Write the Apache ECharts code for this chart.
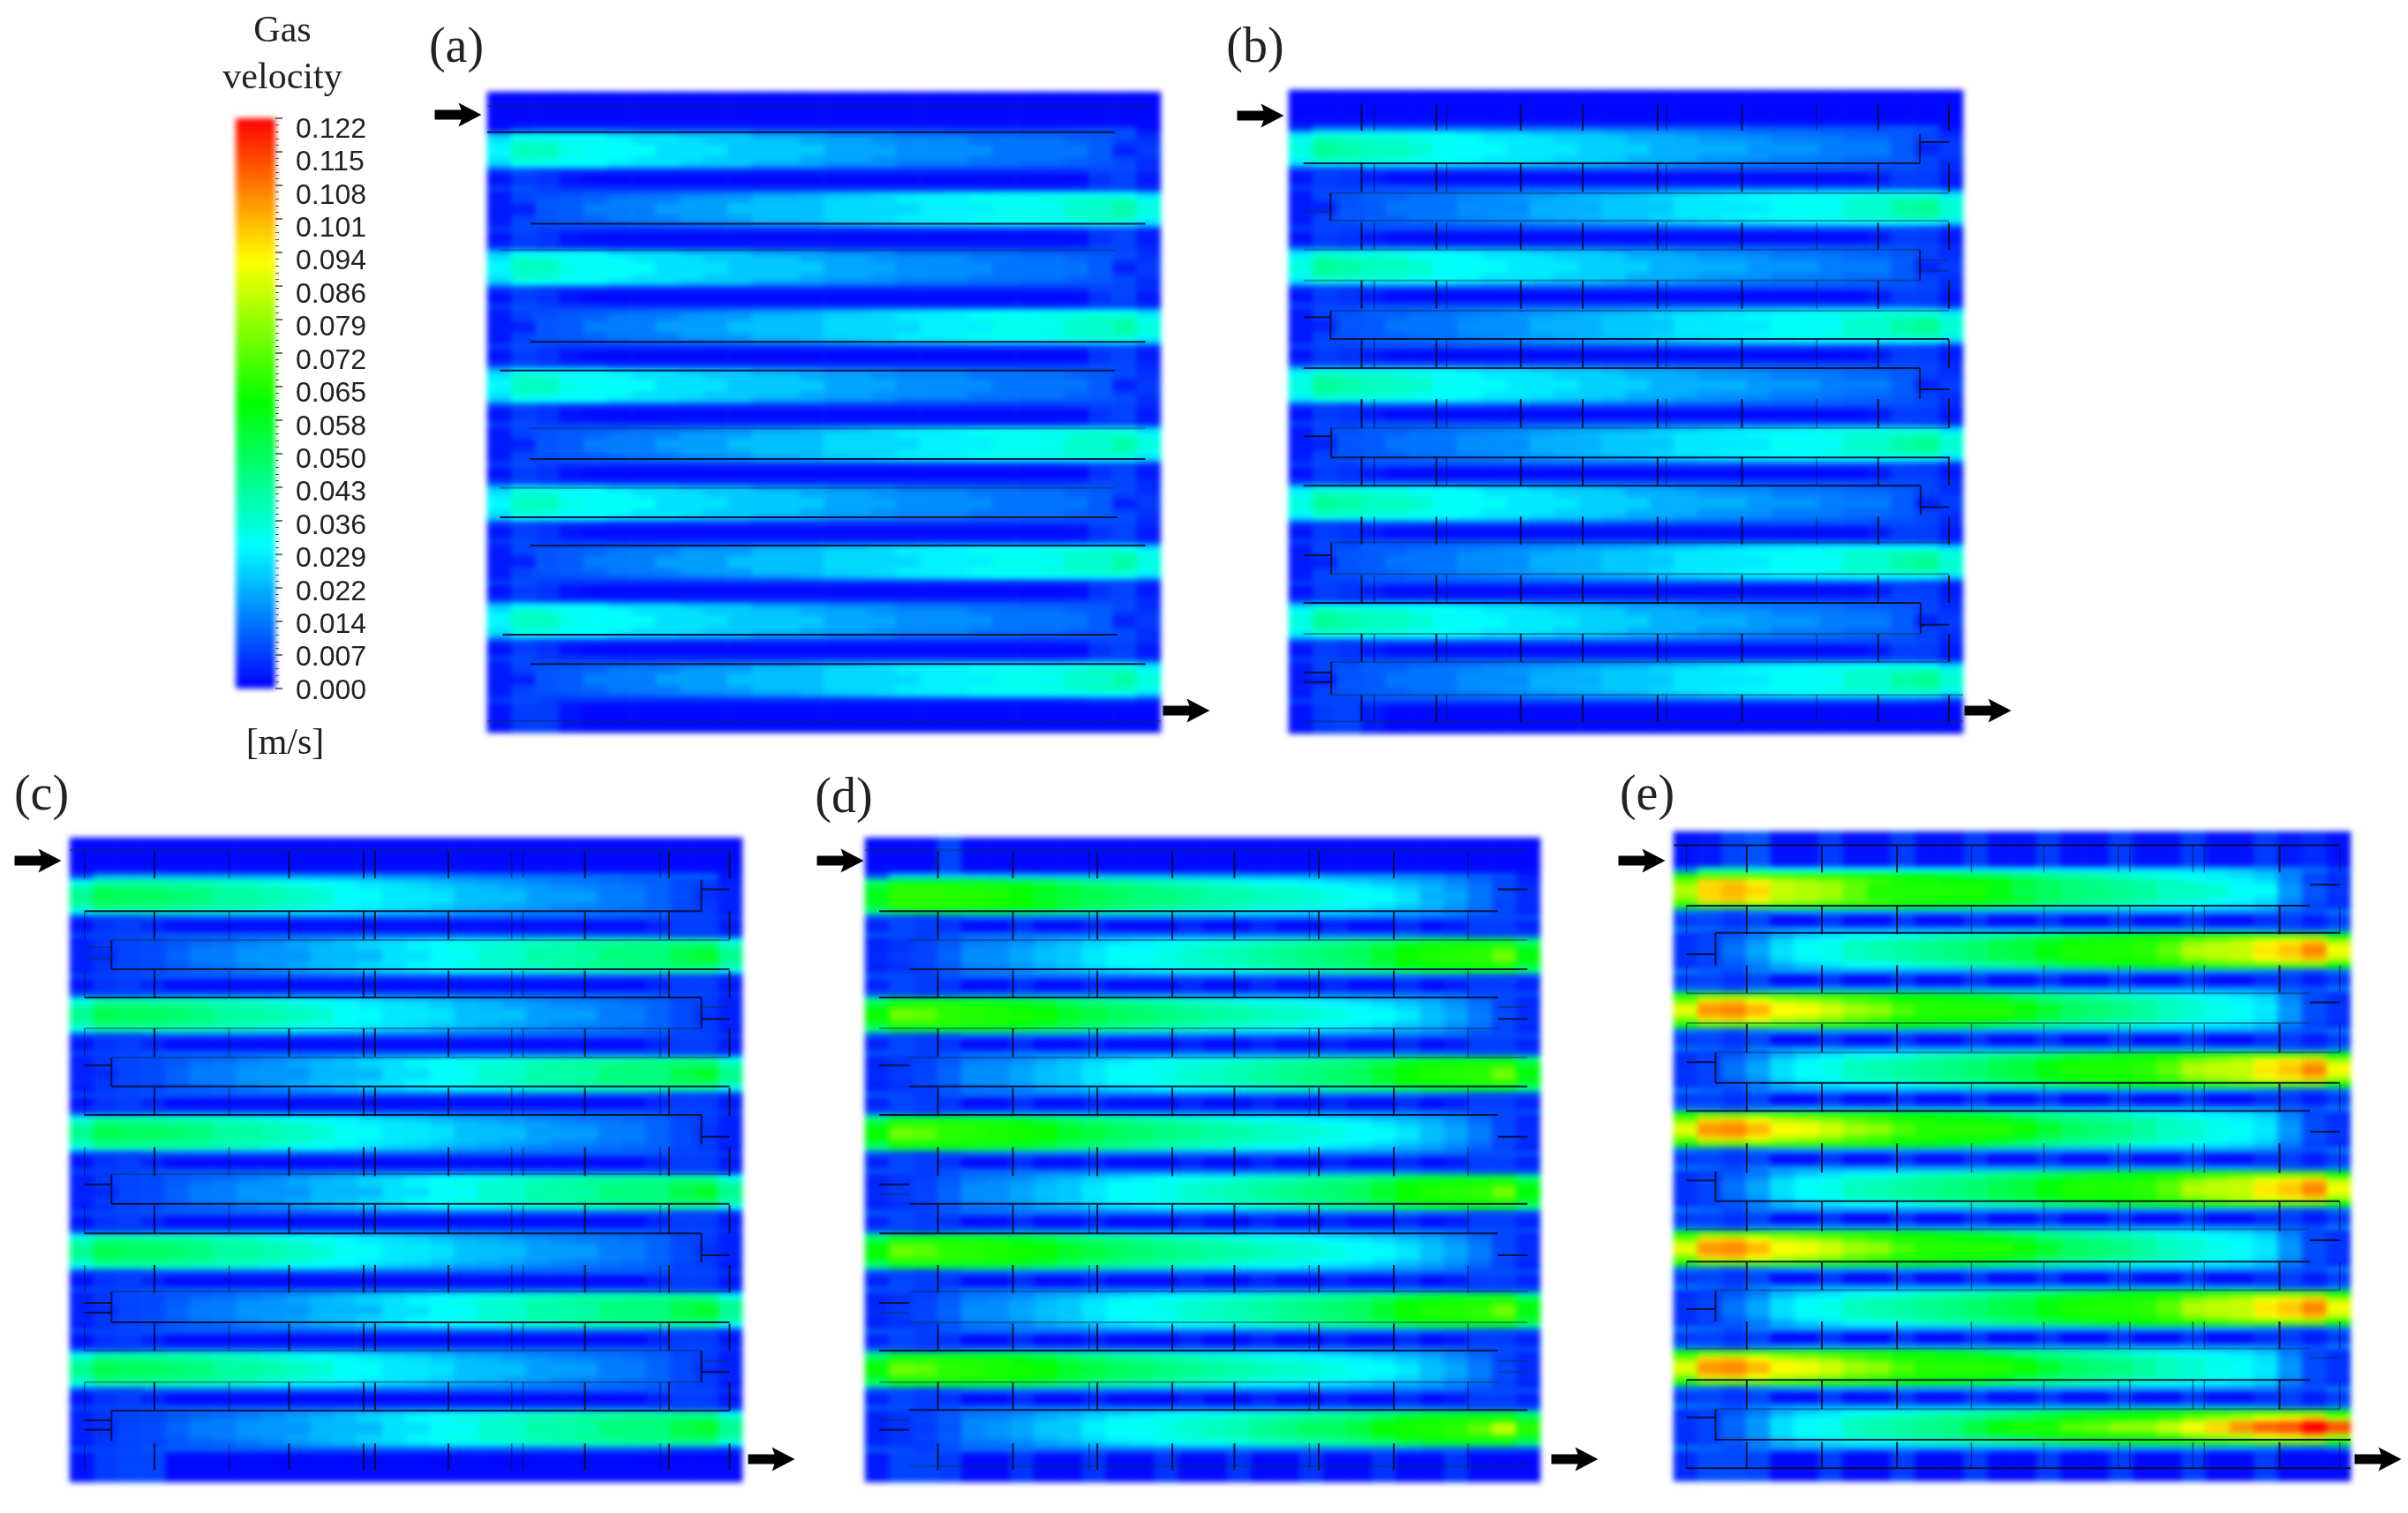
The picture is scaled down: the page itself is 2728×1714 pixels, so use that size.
<!DOCTYPE html>
<html>
<head>
<meta charset="utf-8">
<title>Gas velocity</title>
<script src="https://cdn.jsdelivr.net/npm/echarts@6/dist/echarts.min.js"></script>
<style>
html,body{margin:0;padding:0;background:#fff;}
#heat,#over{position:absolute;left:0;top:0;width:2728px;height:1714px;}
#heat{filter:blur(3px);}
</style>
</head>
<body>
<div id="heat"></div>
<div id="over"></div>
<script>
// all velocities in mm/s (28 columns per panel)
var colorbarLabels=['0.000','0.007','0.014','0.022','0.029','0.036','0.043','0.050','0.058','0.065','0.072','0.079','0.086','0.094','0.101','0.108','0.115','0.122'];
var rainbow=['#0000ff','#00ffff','#00ff00','#ffff00','#ff0000'];

// panel a
var aOddCenter=[30,38,38,33,31,31,31,27,27,27,24,24,24,24,20,20,20,17,17,17,17,14,14,14,14,11,4,7];
var aOddMid=[28,36,35,31,31,31,27,27,27,24,24,24,24,20,20,20,17,17,17,17,14,14,14,14,12,11,8,6];
var aOddEdge=[24,31,31,31,31,27,27,27,24,24,24,20,20,20,17,17,17,14,14,14,13,13,12,12,11,10,9,5];
var aEvenCenter=[3,4,10,11,15,15,15,19,19,19,23,23,23,23,26,26,26,26,29,29,29,32,32,32,36,36,41,34];
var aEvenMid=[3,8,10,11,12,15,15,15,19,19,19,23,23,23,26,26,26,29,29,29,32,32,32,34,36,38,38,32];
var aEvenEdge=[3,8,9,10,11,12,13,14,15,16,17,19,19,21,23,24,26,27,28,29,30,31,31,31,31,31,31,26];
var aGapEdge=[7,9,7,6,6,5,5,5,5,5,5,5,5,5,5,5,5,5,5,5,5,5,5,5,6,8,8,5];
var aGapLow=[2,7,6,2,1,1,1,1,1,1,1,1,1,1,1,1,1,1,1,1,1,1,1,1,1,6,8,3];
var aTop=[1,1,1,1,1,1,1,1,1,1,1,1,1,1,1,1,1,1,1,1,1,1,1,1,1,1,1,1];
var aTopEdge=[3,9,10,10,10,10,9,9,9,9,9,8,8,8,8,8,8,8,8,7,7,7,7,7,8,9,9,2];
var aBottom=[2,7,7,2,1,1,1,1,1,1,1,1,1,1,1,1,1,1,1,1,1,1,1,1,1,1,1,1];
// panel b
var bOddCenter=[34,43,41,38,38,36,31,31,31,28,28,28,25,25,25,21,21,21,21,18,18,18,15,15,15,11,4,7];
var bOddMid=[32,40,38,37,36,33,31,31,28,28,28,25,25,25,21,21,21,18,18,18,15,15,15,13,13,11,8,6];
var bOddEdge=[27,33,33,32,32,31,31,29,27,27,25,24,24,22,20,20,18,17,16,15,14,14,13,12,11,10,8,5];
var bEvenCenter=[3,4,10,11,14,14,14,17,17,17,21,21,21,24,24,24,28,28,28,28,31,31,31,36,36,41,44,36];
var bEvenMid=[3,8,10,11,12,14,14,16,17,18,20,21,22,24,24,26,28,28,29,30,31,31,33,36,37,39,40,34];
var bEvenEdge=[3,8,9,11,11,12,13,14,15,16,17,18,19,20,21,23,24,26,27,28,29,30,30,31,31,31,31,26];
var bGapEdge=[7,8,7,9,9,9,9,9,9,9,9,9,9,9,9,9,9,9,9,9,9,9,9,9,9,9,8,5];
var bGapLow=[2,7,6,3,1,1,1,1,1,1,1,1,1,1,1,1,1,1,1,1,1,1,1,1,3,7,7,3];
var bTop=[1,1,1,1,1,1,1,1,1,1,1,1,1,1,1,1,1,1,1,1,1,1,1,1,1,1,1,1];
var bTopEdge=[5,14,14,14,13,13,13,13,12,12,12,12,12,11,11,11,11,11,11,10,10,10,10,10,10,11,10,2];
var bBottom=[2,7,8,3,1,1,1,1,1,1,1,1,1,1,1,1,1,1,1,1,1,1,1,1,1,1,1,1];
// panel c
var cOddCenter=[44,52,50,50,48,46,42,42,40,38,36,31,31,28,28,27,23,23,23,19,19,19,15,15,12,9,6,4];
var cOddMid=[40,48,47,46,45,44,41,40,38,36,33,31,29,28,27,25,23,22,20,19,17,16,15,14,12,9,7,4];
var cOddEdge=[33,40,40,40,39,38,37,36,33,31,31,29,27,25,24,22,20,19,18,16,15,14,13,12,11,8,7,3];
var cEvenCenter=[4,5,8,9,12,15,15,18,18,18,22,22,22,27,27,31,31,36,36,41,41,41,46,46,46,52,56,44];
var cEvenMid=[4,7,8,9,11,14,15,17,18,20,22,23,26,27,30,31,34,36,38,40,41,44,45,46,47,50,50,41];
var cEvenEdge=[3,6,8,8,10,11,12,14,16,18,20,22,24,26,28,30,31,32,34,36,38,39,40,41,41,42,42,32];
var cGapEdge=[8,8,8,10,11,11,11,11,11,11,11,11,11,11,11,11,11,11,11,11,11,11,11,11,10,8,8,6];
var cGapLow=[2,6,7,4,1,1,1,1,1,1,1,1,1,1,1,1,1,1,1,1,1,1,1,1,4,7,7,3];
var cTop=[1,1,1,1,1,1,1,1,1,1,1,1,1,1,1,1,1,1,1,1,1,1,1,1,1,1,1,1];
var cTopEdge=[8,20,20,20,19,19,19,18,18,18,17,17,17,16,16,15,15,14,14,14,13,13,13,12,12,12,12,3];
var cBottom=[2,7,8,8,1,1,1,1,1,1,1,1,1,1,1,1,1,1,1,1,1,1,1,1,1,1,1,1];
// panel d
var dFirstCenter=[58,66,66,65,65,64,62,56,54,52,50,47,46,44,41,41,39,37,36,34,31,31,27,21,20,14,9,5];
var dOddCenter=[62,74,72,66,65,64,63,62,56,54,50,48,46,44,42,41,39,37,36,34,31,31,28,23,20,15,9,5];
var dOddMid=[56,66,66,65,64,63,61,58,54,50,48,46,44,42,40,38,36,35,33,31,30,28,25,22,18,14,8,5];
var dOddEdge=[46,56,56,56,55,54,52,50,46,44,42,40,38,36,35,33,31,31,29,27,25,23,21,19,16,12,8,4];
var dEvenCenter=[5,7,8,12,17,17,20,23,24,28,31,31,33,36,38,40,42,44,46,48,50,56,62,64,65,66,74,60];
var dLastCenter=[4,6,7,10,16,18,20,24,24,29,31,31,33,36,38,40,44,46,50,50,54,62,63,64,66,72,84,66];
var dEvenMid=[4,6,8,11,16,17,19,22,24,27,30,31,33,35,37,39,41,43,45,47,49,54,60,62,63,64,66,56];
var dEvenEdge=[4,6,7,10,13,14,16,19,21,24,26,28,30,31,32,34,36,38,40,42,44,46,50,54,55,56,56,46];
var dGapEdge=[10,9,7,10,13,13,14,14,14,14,14,14,14,14,14,14,14,14,14,14,14,14,14,13,12,9,9,9];
var dGapLow=[4,8,7,6,1,1,5,1,1,4,1,1,1,4,1,1,4,1,1,4,1,1,5,1,3,7,7,4];
var dTop=[1,1,1,8,1,1,1,1,1,1,1,1,1,1,1,1,1,1,1,1,1,1,1,1,1,1,1,1];
var dTopEdge=[10,24,24,24,24,23,23,22,22,22,21,21,21,20,20,20,19,19,19,18,18,18,17,16,14,12,10,4];
var dBottom=[3,8,8,7,1,1,6,1,1,6,1,1,6,1,1,6,1,1,6,1,1,6,1,1,6,1,1,1];
// panel e
var eFirstCenter=[82,96,100,96,84,82,80,72,64,64,64,64,64,58,52,50,47,46,44,42,38,38,36,31,31,18,10,6];
var eOddCenter=[88,104,106,100,92,90,86,80,78,70,65,65,65,65,62,56,50,48,46,42,38,36,33,31,28,18,9,6];
var eOddMid=[76,96,98,92,84,82,78,72,68,64,64,62,62,60,56,50,47,45,43,41,38,35,32,30,27,17,9,6];
var eOddEdge=[64,72,72,72,70,68,66,65,64,62,60,57,54,50,46,44,42,40,38,35,32,31,29,27,24,15,8,5];
var eEvenCenter=[6,8,14,20,27,31,33,38,40,42,44,46,48,52,54,60,64,64,64,66,72,82,84,84,94,98,106,90];
var eLastCenter=[6,8,12,18,27,31,32,38,40,42,44,46,54,60,64,64,70,72,78,78,84,90,96,104,110,112,122,112];
var eEvenMid=[6,8,12,18,26,30,32,37,39,41,43,45,47,51,53,58,62,63,63,64,68,76,80,84,90,94,98,82];
var eEvenEdge=[5,7,10,14,20,24,27,30,31,33,36,38,40,42,45,48,52,55,58,60,62,64,66,68,70,72,72,62];
var eGapEdge=[14,12,9,15,18,19,19,19,19,19,19,19,19,19,19,19,19,19,19,19,19,19,18,18,16,11,10,14];
var eGapLow=[7,8,6,8,1,1,6,1,1,6,1,1,6,1,1,6,1,1,6,1,1,6,1,1,5,7,3,7];
var eTop=[2,3,8,10,2,2,7,2,2,7,2,2,7,2,2,7,2,2,7,2,2,7,2,2,7,3,5,2];
var eTopEdge=[16,40,40,36,32,31,30,30,30,29,29,29,28,28,28,28,28,28,27,27,27,26,26,24,20,16,13,8];
var eBottom=[5,9,9,8,1,1,7,1,1,7,1,1,7,1,1,7,1,1,7,1,1,7,1,1,7,1,1,1];

// black tubes, % of panel: horizontal [y,x0,x1], vertical [x,y0,y1]
var aDarkWires=[[6.3,0,93.2],[20.6,6.4,97.7],[39,6.4,97.7],[43.5,1.9,93.2],[57.3,6.4,97.7],[66.4,1.9,93.5],[70.8,6.4,97.7],[84.7,2.3,93.5],[89.3,6.4,97.7]];
var aFaintWires=[[2.2,0,98],[24.7,1.9,93.2],[52.5,6.4,97.7],[61.8,1.9,93.2],[98.2,0,100]];
var bDarkWires=[[11.4,2.2,93.6],[8.1,93.6,97.9],[38.7,6.2,97.9],[43.2,2.2,93.6],[46.5,93.6,97.9],[57.1,6.3,97.9],[61.5,2.2,93.7],[64.8,93.7,97.9],[79.7,2.2,93.7],[83.1,93.7,97.9],[35.3,2.2,6.2],[53.8,2.2,6.3],[72.3,2.2,6.3],[90.5,2.2,6.3],[92,2.2,6.3]];
var bFaintWires=[[16,6.2,97.9],[20.3,6.2,97.9],[18.9,2.2,6.2],[24.8,2.2,93.6],[29.6,2.2,93.6],[26.4,93.6,97.9],[28.1,93.6,97.9],[34.3,6.2,97.9],[52.5,6.3,97.9],[70.3,6.3,97.9],[75.2,6.3,97.9],[84.5,2.2,93.7],[88.9,6.3,97.9],[94,6.3,100],[98.1,2.2,100]];
var bRisers=[[93.6,6.9,11.4],[6.2,16,20.3],[93.6,24.8,29.6],[6.2,34.3,38.7],[93.6,43.2,48],[6.3,52.5,57.1],[93.7,61.5,66],[6.3,70.3,75.2],[93.7,79.7,84.5],[6.3,88.9,94]];
var cDarkWires=[[11.4,2.2,93.9],[8,93.9,98.1],[20.4,6.2,98.1],[24.8,2.2,93.9],[28.1,93.9,98.1],[38.6,6.2,98.1],[35.3,2.2,6.2],[43,2.2,93.9],[46.4,93.9,98.1],[56.8,6.2,98.1],[53.8,2.2,6.2],[61.4,2.2,93.9],[64.8,93.9,98.1],[72.2,2.2,6.2],[73.7,2.2,6.2],[75.2,6.2,98.1],[82.9,93.9,98.1],[88.9,6.2,98.1],[90.4,2.2,6.2],[91.9,2.2,6.2]];
var cFaintWires=[[1.9,0,98.1],[15.9,6.2,98.1],[18.8,2.2,6.2],[17,2.2,6.2],[29.6,2.2,93.9],[26.3,93.9,98.1],[34.1,6.2,98.1],[52.2,6.2,98.1],[70.4,6.2,98.1],[79.6,2.2,93.9],[84.5,2.2,93.9],[81.2,93.9,98.1]];
var cRisers=[[93.9,6.5,11.4],[6.2,15.9,20.4],[93.9,24.8,29.6],[6.2,34.1,38.6],[93.9,43,47.6],[6.2,52.2,56.8],[93.9,61.4,66],[6.2,70.4,75.2],[93.9,79.6,84.5],[6.2,88.9,93.6]];
var dDarkWires=[[11.4,2.1,93.7],[8,93.7,98.1],[20.4,6.5,98.1],[24.8,2.1,93.7],[28.1,93.7,98.1],[38.6,6.5,98.1],[35.3,2.1,6.5],[43,2.1,93.7],[46.4,93.7,98.1],[53.8,2.1,6.5],[56.8,6.5,98.1],[61.4,2.1,93.7],[64.8,93.7,98.1],[72.2,2.1,6.5],[79.6,2.1,93.7],[88.8,6.5,98.1],[91.9,2.1,6.5]];
var dFaintWires=[[1.9,0,98],[15.9,6.5,98.1],[26.3,93.7,98.1],[29.6,2.1,93.7],[34.1,6.5,98.1],[55.3,2.1,6.5],[70.4,6.5,98.1],[73.7,2.1,6.5],[75.2,6.5,98.1],[81.2,93.7,98.1],[82.9,93.7,98.1],[84.5,2.1,93.7],[90.4,2.1,6.5],[97.5,6.5,98]];
var eDarkWires=[[2.1,0,98.4],[11.4,1.9,94],[8.2,94,98.4],[15.6,6.2,98.4],[18.9,1.9,6.2],[26.3,94,98.4],[38.7,6.2,98.4],[35.5,1.9,6.2],[43,1.9,94],[46.2,94,98.4],[53.7,1.9,6.2],[56.9,6.2,98.4],[62.9,94,98.4],[66.2,1.9,94],[73.5,1.9,6.2],[84.4,1.9,94],[90.2,1.9,6.2],[93.6,6.2,100],[98,1.9,100]];
var eFaintWires=[[24.9,1.9,94],[29.5,1.9,94],[34,6.2,98.4],[61.2,1.9,94],[70.6,6.2,98.4],[79.6,1.9,94],[81,94,98.4],[88.9,6.2,98.4]];
var eRisers=[[6.2,15.6,20.6],[6.2,34,38.7],[6.2,52.3,56.9],[6.2,70.6,75.4],[6.2,88.9,93.7]];

// spacer ticks, x in % of panel, repeated over the y spans of each gap
var tickSpans=[[2.1,6.3],[11.4,15.8],[20.6,24.8],[29.6,34],[38.8,43.2],[48,52.5],[57,61.5],[66.3,70.6],[75.4,79.7],[84.5,88.9],[94,98.1]];
var bTicks=[10.8,21.9,34.4,43.6,54.7,67.2,87.4,97.9];
var bThinTicks=[12.7,23.4,56,78.3];
var cTicks=[12.6,32.6,43.7,45.4,56.3,76.6,89.1,98.1];
var cThinTicks=[2.2,23.7,65.7,67.4,87.8];
var dTicks=[21.9,34.4,45.5,54.7,67.2,78.3,10.8];
var dThinTicks=[33.2,65.8,89.3];
var eTicks=[10.8,21.9,33,89.5];
var eThinTicks=[1.9,44,54.7,65.7,67.4,76.7,78.4,98.4];

var panels=[
	{label:'(a)',lx:517,ly:55,rect:[552,104,763,726],rows:buildRows(aTop,aTopEdge,aOddCenter,aOddMid,aOddEdge,aEvenCenter,aEvenMid,aEvenEdge,aGapEdge,aGapLow,aBottom),dark:aDarkWires,faint:aFaintWires,risers:[],ticks:[],thin:[]},
	{label:'(b)',lx:1422,ly:55,rect:[1460,102,764,729],rows:buildRows(bTop,bTopEdge,bOddCenter,bOddMid,bOddEdge,bEvenCenter,bEvenMid,bEvenEdge,bGapEdge,bGapLow,bBottom),dark:bDarkWires,faint:bFaintWires,risers:bRisers,ticks:bTicks,thin:bThinTicks},
	{label:'(c)',lx:47,ly:902,rect:[79,949,762,730],rows:buildRows(cTop,cTopEdge,cOddCenter,cOddMid,cOddEdge,cEvenCenter,cEvenMid,cEvenEdge,cGapEdge,cGapLow,cBottom),dark:cDarkWires,faint:cFaintWires,risers:cRisers,ticks:cTicks,thin:cThinTicks},
	{label:'(d)',lx:956,ly:905,rect:[980,949,765,730],rows:buildRows(dTop,dTopEdge,dOddCenter,dOddMid,dOddEdge,dEvenCenter,dEvenMid,dEvenEdge,dGapEdge,dGapLow,dBottom,dFirstCenter,dLastCenter),dark:dDarkWires,faint:dFaintWires,risers:[],ticks:dTicks,thin:dThinTicks},
	{label:'(e)',lx:1866,ly:902,rect:[1896,942,767,736],rows:buildRows(eTop,eTopEdge,eOddCenter,eOddMid,eOddEdge,eEvenCenter,eEvenMid,eEvenEdge,eGapEdge,eGapLow,eBottom,eFirstCenter,eLastCenter),dark:eDarkWires,faint:eFaintWires,risers:eRisers,ticks:eTicks,thin:eThinTicks}
];

// arrow centres on the page, inlet then outlet of each panel
var arrowCentres=[[519,130],[1344,805],[1428,131],[2252,805],[43,975],[874,1653],[952,975],[1784,1653],[1860,975],[2694,1653]];
var arrowPath='path://M0,8 L30,8 L27,0 L53,13.5 L27,27 L30,19 L0,19 Z';

// stack the lanes: 7 rows above, 10 lanes of 6 rows with 4 gap rows, 6 rows below
function buildRows(top,topEdge,oc,om,oe,ec,em,ee,gapEdge,gapLow,bottom,firstCenter,lastCenter){
	var rows=[top,top,top,top,top,top,topEdge];
	for(var k=0;k<10;k++){
		var odd=k%2==0;
		var center=odd?oc:ec;
		if(k==0&&firstCenter) center=firstCenter;
		if(k==9&&lastCenter) center=lastCenter;
		var mid=odd?om:em, edge=odd?oe:ee;
		rows.push(edge,mid,center,center,mid,edge);
		if(k<9) rows.push(gapEdge,gapLow,gapLow,gapEdge);
	}
	rows.push(gapEdge,bottom,bottom,bottom,bottom,bottom);
	return rows;
}

function indexList(n){
	var a=[];
	for(var i=0;i<n;i++) a.push(i);
	return a;
}

function heatCells(rows){
	var cells=[];
	rows.forEach(function(r,y){
		r.forEach(function(v,x){ cells.push([x,y,v]); });
	});
	return cells;
}

function segments(hs,vs){
	var out=[];
	hs.forEach(function(s){ out.push([s[1],s[0]],[s[2],s[0]],['-','-']); });
	vs.forEach(function(s){ out.push([s[0],s[1]],[s[0],s[2]],['-','-']); });
	return out;
}

function tickSegments(xs){
	var out=[];
	xs.forEach(function(x){
		tickSpans.forEach(function(s){ out.push([x,s[0]],[x,s[1]],['-','-']); });
	});
	return out;
}

function wireSeries(i,data,width,color){
	return {
		type:'line',xAxisIndex:i,yAxisIndex:i,data:data,
		showSymbol:false,silent:true,connectNulls:false,animation:false,
		lineStyle:{width:width,color:color}
	};
}

// lower layer: the contour fields and the colour scale
var heat=echarts.init(document.getElementById('heat'));
var heatGrids=[],heatX=[],heatY=[],heatSeries=[];
panels.forEach(function(p,i){
	heatGrids.push({left:p.rect[0],top:p.rect[1],width:p.rect[2],height:p.rect[3]});
	heatX.push({type:'category',gridIndex:i,data:indexList(28),show:false});
	heatY.push({type:'category',gridIndex:i,data:indexList(p.rows.length),inverse:true,show:false});
	heatSeries.push({type:'heatmap',xAxisIndex:i,yAxisIndex:i,data:heatCells(p.rows),progressive:0,animation:false});
});
heat.setOption({
	animation:false,
	grid:heatGrids,xAxis:heatX,yAxis:heatY,series:heatSeries,
	visualMap:{
		type:'continuous',min:0,max:122,left:267,top:134,itemWidth:45,itemHeight:646,padding:0,
		calculable:false,showLabel:false,text:null,inRange:{color:rainbow},
		seriesIndex:[0,1,2,3,4]
	}
});

// upper layer: tubes, arrows, text, colour scale ticks
var over=echarts.init(document.getElementById('over'));
var grids=[],xAxes=[],yAxes=[],series=[],texts=[];
panels.forEach(function(p,i){
	grids.push({left:p.rect[0],top:p.rect[1],width:p.rect[2],height:p.rect[3]});
	xAxes.push({type:'value',gridIndex:i,min:0,max:100,show:false});
	yAxes.push({type:'value',gridIndex:i,min:0,max:100,inverse:true,show:false});
	series.push(wireSeries(i,segments(p.dark,p.risers),2,'rgba(0,12,50,0.9)'));
	series.push(wireSeries(i,segments(p.faint,[]),2,'rgba(0,50,80,0.45)'));
	series.push(wireSeries(i,tickSegments(p.ticks),2,'rgba(0,12,48,0.9)'));
	series.push(wireSeries(i,tickSegments(p.thin),1.5,'rgba(0,20,60,0.55)'));
	texts.push({type:'text',x:p.lx,y:p.ly,style:{text:p.label,font:'56px "Liberation Serif"',fill:'#222',textAlign:'center',textVerticalAlign:'middle'}});
});
texts.push({type:'text',x:320,y:36,style:{text:'Gas',font:'42px "Liberation Serif"',fill:'#222',textAlign:'center',textVerticalAlign:'middle'}});
texts.push({type:'text',x:320,y:89,style:{text:'velocity',font:'42px "Liberation Serif"',fill:'#222',textAlign:'center',textVerticalAlign:'middle'}});
texts.push({type:'text',x:323,y:843,style:{text:'[m/s]',font:'42px "Liberation Serif"',fill:'#222',textAlign:'center',textVerticalAlign:'middle'}});

function labelFormatter(v){
	return colorbarLabels[Math.round(v)]||'';
}

// colour scale ticks (grid 5) and its labels (grid 6), the labels sit a little lower than the ticks
grids.push({left:267,top:134,width:45,height:646});
xAxes.push({type:'value',gridIndex:5,min:0,max:1,show:false});
yAxes.push({type:'value',gridIndex:5,min:0,max:17,interval:1,position:'right',
	axisLine:{show:false,onZero:false},splitLine:{show:false},axisLabel:{show:false},
	axisTick:{show:true,length:8,lineStyle:{color:'#444',width:1.5}},
	minorTick:{show:true,splitNumber:5,length:4,lineStyle:{color:'#555',width:1}}
});
grids.push({left:318,top:147,width:2,height:636});
xAxes.push({type:'value',gridIndex:6,min:0,max:1,show:false});
yAxes.push({type:'value',gridIndex:6,min:0,max:17,interval:1,position:'right',
	axisLine:{show:false,onZero:false},splitLine:{show:false},axisTick:{show:false},
	axisLabel:{show:true,formatter:labelFormatter,margin:15,color:'#222',fontSize:32,fontFamily:'Liberation Sans'}
});

// whole page grid for the inlet and outlet arrows
grids.push({left:0,top:0,width:2728,height:1714});
xAxes.push({type:'value',gridIndex:7,min:0,max:2728,show:false});
yAxes.push({type:'value',gridIndex:7,min:0,max:1714,inverse:true,show:false});
series.push({
	type:'scatter',xAxisIndex:7,yAxisIndex:7,silent:true,animation:false,
	symbol:arrowPath,symbolSize:[53,27],symbolKeepAspect:false,
	itemStyle:{color:'#000',opacity:1},
	data:arrowCentres
});

over.setOption({animation:false,grid:grids,xAxis:xAxes,yAxis:yAxes,series:series,graphic:texts});
</script>
</body>
</html>
